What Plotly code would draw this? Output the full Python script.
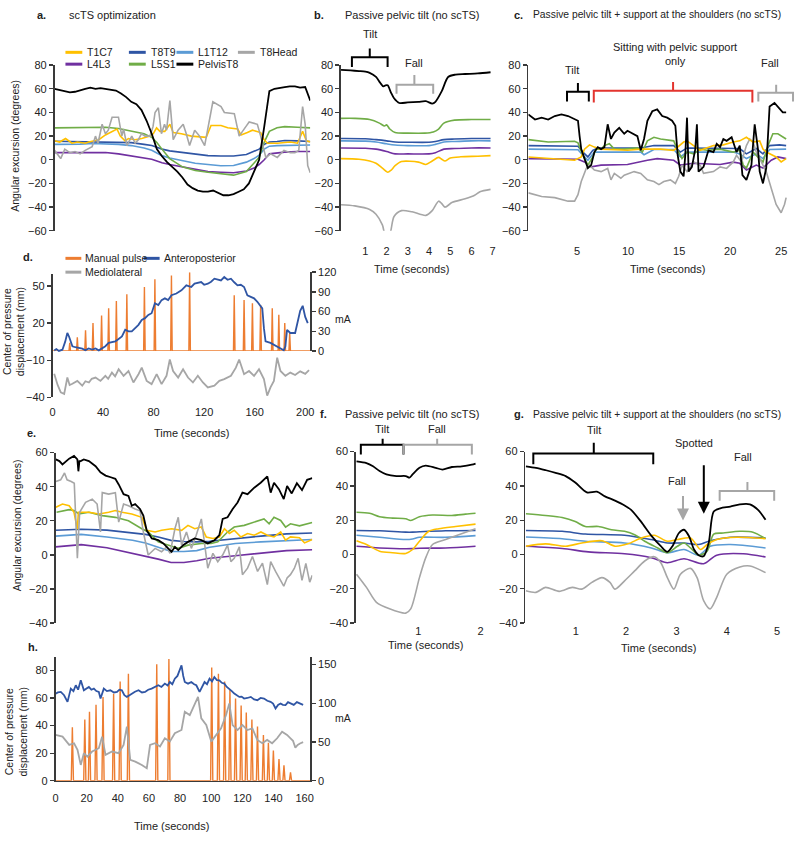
import plotly.graph_objects as go

W, H = 799, 841

# ---------------- DATA ----------------
# Panel a (scTS optimization), arbitrary time units 0-100
A_BLK_T = [0,2,4,6,8,10,12,14,16,18,20,22,24,26,28,30,32,34,36,38,40,42,44,46,48,50,52,54,56,58,60,62,64,66,68,70,72,74,76,78,80,82,84,86,88,90,92,94,96,98,100]
A_BLK = [60,59,58,57,57.5,59,60,61,60,60.5,60,59.5,58.5,56,53,49,47,42,33,22,9,3,-2,-6,-10,-15,-21,-24,-26,-27,-27,-26,-28,-30,-30,-29,-27,-25,-20,-10,0,28,58,60,61,61.5,62,62,61,61.5,50]
A_SM_T = [0,5,10,15,20,25,30,35,38,40,42,45,50,55,60,65,70,75,78,80,82,84,87,90,95,100]
A_L5S1 = [27,27,27.5,27.5,27.5,26.5,24.5,22,19,14.5,9,1,-6,-9,-10.5,-12,-13,-10,-3,2,15,24,27,28,27.5,27]
A_T8T9 = [15.7,15.5,15.5,15.3,15,15,14.5,13,12,10.5,9,7.5,6,4.6,3.5,3.2,3.2,4.5,7,9,13,15,15.5,16.3,16,15.5]
A_L1T12 = [13,13,13.2,13.7,13.5,13,12,10,8,6,3.5,1.5,-1,-3,-4,-5,-4.8,-2,1,4,9,11.5,12,12,12,12.5]
A_L4L3 = [6,6,6.3,6.5,6.2,5,3.5,2,0.5,-1,-2.5,-4,-6,-8,-10,-10.5,-11,-9.5,-7,-4,0,5,6,6.5,7,7]
A_YEL_T = [0,2,4.3,5.5,6.8,9,12,13.4,15,17.3,19.9,22.5,24.4,25.7,27.6,28.9,31.5,34.1,37.3,38.6,39.9,41.2,43.1,45.1,46.4,49.6,53.5,59.3,61.2,65.1,67.7,71.6,72.9,75.4,77.4,80.6,81.9,83.2,87.1,92.2,95,97,98.5,100]
A_T1C7 = [16,15,18,16,14,15,14,15,16,17,21,24,26,20,16,18,17,18,20,22,27,24,24,30,23,22,20,19,29,29,27,26,21,23,25,23,17,14,14,15,14,24,16,15]
A_GRY_T = [0,2.4,4,6,8,10,12,14.7,16,17,18.6,19.9,21,22.5,25,26.3,27,28.3,30.2,31.5,32.8,34,35.4,37.3,38.5,39.3,40.6,41.8,43,43.8,45.1,46.4,48.3,50.3,51.5,52.8,54.8,56.7,58.7,60.6,61.9,65.1,66.4,70.3,72.2,74.8,76.1,79.3,80.6,82.6,84.5,87.1,89.7,92.2,94,95.5,97,98,99,100]
A_T8HEAD = [8,1,9,6,7,5,8,11,20,14,30,22,25,36,36,20,26,12,20,14,17,22,20,20,28,40,44,22,30,25,50,17,25,30,22,12,25,20,12,35,49,45,40,39,20,28,32,30,20,2,5,2,8,6,6,8,45,30,-5,-11]

# Panel b (passive pelvic tilt, seconds)
B_BLK_T = [-0.15,0.3,0.7,1.0,1.2,1.5,1.7,1.85,1.95,2.05,2.2,2.35,2.6,3.0,3.5,3.85,4.15,4.3,4.6,4.9,5.25,5.7,6.3,6.9]
B_BLK = [76,75.5,75,74.5,73.5,70,65,62,63,63,57,52,48,48.5,49,49.5,47.5,49,58,70,72,72.5,73,74]
B_GRN_T = [-0.15,0.5,1.2,1.66,1.9,2.0,2.15,2.4,3.0,3.8,4.2,4.45,4.7,5.2,6.0,6.9]
B_GRN = [35,35,34,31,28.5,29.5,26,23,22.5,22.5,23.5,26,31,33.5,34,34]
B_SM_T = [-0.15,1.0,1.5,2.0,2.4,3.0,4.0,4.3,4.7,5.2,6.0,6.9]
B_T8T9 = [18,17.8,17,16,15,14.8,14.8,15.5,17,17.5,18,18]
B_L1T12 = [16,15.8,15,13.5,12.5,12,12,13,15,15.5,16,16]
B_L4L3 = [10,9.8,9,7,5,5,5,6,9,9.5,10,10]
B_YEL_T = [-0.15,0.7,1.2,1.5,1.8,2.05,2.2,2.4,2.7,3.5,3.85,4.15,4.45,4.6,4.75,5.0,5.5,6.3,6.9]
B_YEL = [1,0.5,-1,-3,-7,-10.5,-9,-5,-1.5,-2,-4,-1,2,0.5,-1,1.5,2.5,3,3.5]
B_GRY_T = [-0.15,0.5,1.2,1.5,1.8,1.97,2.15,2.35,2.7,3.2,3.85,4.15,4.45,4.6,4.75,5.1,5.7,6.15,6.4,6.9]
B_GRY = [-38,-39,-42,-46,-55,-66,-63,-48,-43,-44,-47,-43,-35,-37,-40,-36,-33,-30,-27,-25]

# Panel c (tilt + shoulder support, seconds)
C_BLK_T = [0.23,0.88,1.53,2.17,2.82,3.47,4.12,4.76,5.09,5.25,5.41,5.73,6.06,6.38,6.70,7.03,7.35,7.68,8.00,8.32,8.65,9.13,9.62,9.94,10.43,10.91,11.24,11.56,11.89,12.37,12.85,13.34,13.83,14.31,14.63,14.86,15.12,15.44,15.60,15.77,15.93,16.25,16.58,16.74,16.90,17.39,17.87,18.36,18.68,19.01,19.33,19.65,20.14,20.62,20.94,21.20,21.59,22.08,22.40,22.72,22.89,23.21,23.53,23.86,24.34,24.83,25.15,25.48]
C_BLK = [38.4,34,35.6,34,37,38.4,37,34,33,20,9,1,-7,-4.5,6.5,10.7,9,10.7,30,17.6,23,27,22,24.5,22,20,8,17.6,33,41,42.6,37,35.6,33,28.7,3.8,-10,-14,3.8,35.6,-10,-6,9,30,-10,-6,8,6.5,13.5,10.7,17.6,16,19,6.5,12,-13,-17,-4.5,30,9,-10,-20,-7,45,48,42.6,40,40]
C_GRN_T = [0.23,2.17,4.76,5.09,5.57,6.06,6.54,6.87,7.35,7.68,8.16,8.65,9.62,10.91,11.40,11.89,12.53,13.18,14.47,14.80,15.28,15.77,16.41,17.06,17.71,19.01,20.30,20.94,21.27,21.59,22.24,22.89,23.21,23.70,24.18,24.67,25.48]
C_GRN = [17,15,15.7,14.3,3.8,-4.5,2.4,9,9,12,13.5,9,9,10,6.5,16,19,17.6,16,9,1,6.5,5,9,8,9,6.5,8,-4.5,-7,6.5,1,-2,12,22,22,17.6]
C_BLU_T = [0.23,4.76,5.09,5.57,6.06,6.54,7.03,11.24,12.53,14.47,15.12,15.77,20.30,20.94,21.59,22.56,23.21,23.86,24.83,25.48]
C_T8T9 = [12,12,11.5,6.5,2.4,8,10,10,12,12,6.5,10,10,9.5,5,9.5,5,12,12.6,12]
C_LB_T = [0.23,4.76,5.09,5.73,6.06,6.70,7.03,11.24,11.56,12.53,14.47,15.12,15.77,20.30,20.94,21.59,22.56,23.21,23.86,25.48]
C_L1T12 = [9,9,8.5,2.4,-0.4,6.5,6.5,6.5,4.3,8.7,8.7,2.4,6.5,6.5,5,1,5,1,8.7,9]
C_PUR_T = [0.23,4.76,5.09,5.73,6.38,7.35,9.94,11.89,12.85,14.47,15.12,16.41,19.01,20.30,20.94,21.59,22.56,23.21,24.02,24.67,25.48]
C_L4L3 = [1,1,0.5,-1.8,-6,-4.5,-4,-0.4,1,-0.4,-4.5,-3,-4,-2,-3,-8.7,-4.5,-7,-0.4,2.4,1]
C_YEL_T = [0.23,2.17,4.76,5.41,5.73,6.22,6.70,7.35,8.65,9.94,11.24,13.18,14.47,15.44,15.77,16.41,17.06,18.36,19.33,20.30,20.94,21.59,22.24,22.89,23.21,23.53,23.86,24.50,24.99,25.48]
C_YEL = [2.4,1,-0.4,2.4,9,12.6,10.7,9,8.4,8,9,9,8,15,16,12,8,12,12.6,15,16,19,15,16,9,6.5,5,2.4,-1.8,1]
C_GRY_T = [0.23,1.53,2.82,4.12,4.76,5.09,5.41,5.90,6.22,6.70,7.35,8.00,8.32,8.65,9.29,9.62,10.59,11.24,11.89,12.53,13.02,13.50,14.15,14.63,14.96,15.28,15.77,16.41,17.06,17.39,18.36,19.01,19.65,20.30,20.62,21.11,21.59,21.92,22.24,22.56,22.89,23.53,24.02,24.50,24.99,25.32,25.48]
C_GRY = [-28,-31,-32,-35,-35,-29.5,-18.4,-7.3,-4.6,-8.7,-10,-7.3,-17,-11.5,-15.6,-13,-10,-11.5,-17,-18.4,-21,-18.4,-17,-20,-14,-4.6,-10,-1.8,-4.6,-11.5,-10,-6,-7.3,-1.8,3.8,-1.8,12,17.6,15,6.5,1,-10,-24,-37.8,-44.8,-37.8,-32]

# Panel d (center of pressure, seconds; pulses in mA)
D_AP_T = [1.3,3,5,7.8,10,11.7,13.1,15.7,18,20.9,23.5,26,28.5,31.4,34,36.6,39.2,41.8,44.4,47,49.7,52,54.9,57.5,60.1,62.7,65,68,70.6,73.2,75.8,78.4,81,83.7,86.3,88.9,91.5,94.1,98,102,105.9,109.8,112.4,117.6,120,122.9,125.5,128.1,133.3,135.9,138.5,141.2,143.8,146.4,149,151.6,154.2,157,159.5,162.1,166,167.3,168.6,172.5,175.2,179.1,181.7,183,184.3,185.6,188.2,192,196,198,200,202]
D_AP = [-2.2,-1,-2.5,-1.5,5,12,9,1.3,0.5,0,-0.6,-2,-0.5,-1.4,-0.5,-2,-0.6,1.3,4,4.5,5.3,7,9.3,14.6,13.3,13.3,16,18.6,22.6,24,26.6,28,36,34.6,38.6,40,38.6,42.5,43.9,46.5,50.5,49.2,51.9,53.2,51,51.9,53.5,55.9,54.5,57.2,55,55.9,53,50.5,51,49.2,42.5,41.5,40,37.2,31.9,15.9,5.3,4,2.6,0.5,-1.4,-2,1.3,14.6,12,12,30,34,25,20]
D_ML_T = [1.3,4,6.5,9.2,11.7,13.5,15.7,19.6,23.5,26,28.8,31,34,37.9,41.8,44,47,49.5,52.3,56.2,60.1,64,68,70.6,74.5,78.4,82.4,86.3,90.2,92.8,95.4,99.4,103.3,107.2,111.1,115,119,122.9,128.1,132,135.9,141.2,145.1,147.7,151.6,155.5,159.5,163.4,167.3,169.9,172.5,175.2,177.8,180.4,184.3,188.2,192,196,200,203]
D_ML = [-21,-30,-36,-37.3,-24,-30,-29,-26.7,-30.6,-27,-28,-25,-24,-26.7,-22.6,-25,-20,-23,-17.3,-22.6,-18.7,-28,-21.3,-16,-26.7,-29.3,-21.3,-29.3,-22.6,-9.4,-18.7,-24,-17.3,-24,-28,-22.6,-28,-32,-30.6,-26.7,-25.3,-22.6,-16,-9.4,-21.3,-18.7,-22.6,-17.3,-25.3,-38.6,-32,-26.7,-8,-18.7,-22.6,-20,-22,-19,-21,-18]
D_PULSE_T = [13.6,19.6,26.1,32,38.8,44.4,50.5,58.8,72.7,81,94.1,108.5,143.8,151.6,158.2,164.7,173.9,179.1,183.8,187.7]
D_PULSE_MA = [12.5,21,31.5,42.5,54,65,76,86.5,97.5,109,115,120,85,77.5,72.5,70,65,55,42.5,27.5]

# Panel e (scTS, arbitrary time units 0-100)
E_BLK_T = [0.13,1.5,2.7,4,5.3,7.2,8.5,8.9,9.3,9.8,11,13,15.6,17.5,19.5,21.5,23.3,24.6,26.5,28.4,29.7,31,32.9,34.2,35.5,37.5,40,42,43.9,45.2,46.5,47.8,49.7,51.6,54.2,56.8,59.3,61.9,63.8,65.1,67,69,70.9,72.8,74.8,77.4,79.9,82.5,83.8,85.1,87,88.9,90.2,92,94,96,98,100]
E_BLK = [56,55,53,55,56.4,58,56,49,55,55,56,55,52,48.4,46.5,45.5,44.6,41.3,35.6,34.6,28.8,29.8,26.9,23,14.4,9.6,8.6,6.7,3.8,1.8,4.7,2.8,5.7,7.6,9.6,8.6,6.7,8.6,11.5,21.1,22,26.9,30.7,36.5,35.6,39.4,42.3,46,36.5,42.3,38.5,32.7,40.4,36,42,38,44,45]
E_GRY_T = [0.13,2,3.5,4.5,6.1,7.3,8.5,9.4,11.7,14.3,16.2,17.5,18.2,20.7,23.3,24.6,26.5,28.4,31,32.9,34.2,36.1,38.8,41.3,43.3,44.6,46.5,47.8,49.1,51,52.9,54.8,56.8,58,59.3,61.3,63.2,65.1,67,68.3,69.6,71.6,72.8,74.8,76.7,78.7,80.6,82.5,83.8,85.7,87.7,88.9,90.2,91.5,93,94.5,96,97.5,99,100]
E_GRY = [43,44,48,44,43,42,-2,25,30.8,32.7,29.8,13.4,36.5,35.6,36.5,19.2,29.8,28.8,26.9,25.9,13.4,-0.1,3.8,1.8,4.7,0.9,15.3,22,5.7,13.4,3.8,11.5,21.1,5.7,-7.8,0.9,-4,-0.1,5.7,-4,-2,4.7,-11.6,-7.8,-1,-9.7,-4.9,-17.4,-4,-9.7,-15.5,-18.4,-13.6,-11.6,-8,-2,-15,-5,-16,-12]
E_YEL_T = [0.13,2.7,5.3,7.2,8.5,8.9,13,16.9,20.7,23.3,25.9,29.7,33.6,35.5,38.8,41.3,45.2,49.1,51.6,54.2,56.8,58.7,61.3,63.8,65.8,67.7,69.6,72.2,74.8,77.4,80,82.5,85.1,87.7,89.6,91.5,95,97,100]
E_YEL = [27.9,29.8,28.8,25,15,25,25,24,25,26,25,24,22,14.4,13.4,14.4,15.3,14.4,17.3,15.3,16.3,10.5,9.6,10.5,15.3,12.5,14.4,10.5,12.5,11.5,13.4,11.5,10.5,13.4,8.6,10.5,10,7,9]
E_GRN_T = [0.4,5.3,7.2,9.1,13,18.2,23.3,28.4,33.6,36.1,40,44,47.8,51.6,56.8,60.6,63.2,67,69.6,73.5,77.4,81.2,83.2,85.1,87.7,89.6,91.5,95,100]
E_GRN = [25,26.5,26,24,25,23,22,20,15.3,13.4,7.6,5.7,3.8,5.7,6.7,6.7,7.6,13.4,16.3,17.3,19.2,21.1,18.2,22,20.2,16.3,18.2,17,19]
E_SM_T = [0,10,20,30,35,40,45,50,55,60,70,80,90,100]
E_T8T9 = [14.4,15,14.5,13,12,10.5,8.5,7.8,7.6,8,9.6,11,12.3,12.8]
E_L1T12 = [11,12,10.5,8.6,7,4.5,2,2,2.5,4.5,6.7,7.6,8.5,9]
E_L4L3 = [4.7,6,4.2,1,-0.5,-2.5,-4.5,-4.5,-3.5,-2,-0.5,1,2.5,3]

# Panel f (passive pelvic tilt, seconds)
F_BLK_T = [0.01,0.17,0.275,0.38,0.49,0.65,0.8,0.86,0.91,1.02,1.12,1.28,1.39,1.54,1.7,1.86,1.92]
F_BLK = [54.3,53.3,51.4,48.6,46.7,45.7,45.7,44.8,46.7,50.5,51.8,50.5,49.5,51,51.4,52.4,53]
F_GRN_T = [0.01,0.22,0.38,0.59,0.8,0.88,1.02,1.23,1.54,1.76,1.92]
F_GRN = [24.6,24,22,21.2,20.8,19.8,22,23,22.7,23.5,24]
F_SM_T = [0.01,0.38,0.8,0.91,1.02,1.44,1.92]
F_T8T9 = [14,13.8,13,13,13.2,13.8,14]
F_L1T12 = [11.2,10,8.7,9,10,10,11]
F_L4L3 = [4.8,3.8,3.3,3.4,3.6,3.8,4.8]
F_YEL_T = [0.01,0.17,0.38,0.59,0.8,0.91,1.02,1.17,1.33,1.6,1.92]
F_YEL = [8,5.8,1.9,1,0.6,2.9,7.7,13.5,15,16.3,17.7]
F_GRY_T = [0.01,0.17,0.33,0.54,0.8,0.88,1.02,1.12,1.23,1.44,1.65,1.92]
F_GRY = [-11.5,-19.2,-27.9,-31.7,-34.2,-31.7,-13.5,-2,5.8,8.7,11.5,15]

# Panel g (tilt + shoulder support, seconds)
G_BLK_T = [0.01,0.21,0.41,0.6,0.8,0.99,1.22,1.42,1.58,1.78,1.97,2.1,2.3,2.5,2.69,2.82,2.92,3.05,3.15,3.25,3.35,3.44,3.54,3.64,3.74,3.87,4.07,4.26,4.46,4.62,4.77]
G_BLK = [51.4,50.5,49.1,47.6,45.7,41.9,36.2,36.6,33.9,31.4,28.6,26,19,11,4.8,1.5,4.8,12.5,14.4,10.6,2.9,-0.4,-1,6.7,25,26.9,27.9,29.2,29.2,26,20.2]
G_GRN_T = [0.01,0.4,0.73,0.99,1.19,1.45,1.71,1.97,2.17,2.37,2.63,2.82,3.02,3.15,3.28,3.44,3.61,3.74,3.93,4.26,4.52,4.77]
G_GRN = [23.7,22.7,21.5,19.2,16.3,16.3,14.4,13.5,11.5,7.7,3.8,1,4.8,6.7,3.8,-0.4,1.9,11.9,12.5,13.5,13,9.2]
G_BLU_T = [0.01,0.73,1.19,1.97,2.5,2.82,3.15,3.44,3.67,4.07,4.77]
G_T8T9 = [14,13.5,11.9,11.2,8.7,6.7,6.7,5.8,8,10,9.6]
G_L1T12 = [10.2,9.2,7.7,6.7,3.8,1,2.9,-0.4,4.8,5.8,3.8]
G_PUR_T = [0.01,0.73,1.25,1.97,2.5,2.82,3.15,3.54,3.8,4.33,4.77]
G_L4L3 = [4.8,3.5,1.5,0.4,-1.9,-4.8,-2.5,-5.4,-0.4,0.4,-1.5]
G_YEL_T = [0.01,0.4,0.8,1.12,1.52,1.78,2.04,2.3,2.56,2.82,3.02,3.28,3.48,3.61,3.8,4.2,4.77]
G_YEL = [4.8,6.2,4.8,6.7,8,4.8,6.2,9.6,11.2,7.7,8.7,9.6,2.9,5.8,8.7,10,9.2]
G_GRY_T = [0.01,0.21,0.4,0.67,0.93,1.12,1.32,1.52,1.68,1.78,1.97,2.17,2.37,2.56,2.69,2.82,2.95,3.08,3.28,3.41,3.54,3.67,3.8,4.0,4.26,4.46,4.77]
G_GRY = [-21.2,-22.1,-19.2,-21.5,-19.2,-20.2,-16.3,-13.5,-16.3,-20.2,-15.4,-9.6,-3.8,-1.3,-4.8,-13.5,-20.2,-11.5,-8.1,-13.5,-26.9,-31.7,-25,-11.5,-7.3,-6.7,-10.6]

# Panel h (center of pressure with scTS, seconds; pulses in mA)
H_AP_T = [0,1.5,3.4,5.5,7.7,9.8,11.5,13,14.5,16.2,18.2,19.8,21.4,23,24.6,26.2,27.8,28.9,31,33,35.2,37.5,39.5,41,42.6,44.2,45.8,47.5,49,51,53.3,55.5,57.5,59.5,61.7,64,66,68,70.2,72,73.4,75,76.6,78.3,79.8,80.9,82,83,85.1,87.2,89,90.4,92.5,94,95.7,97.3,98.9,100.5,102,103.6,105.2,106.8,108.4,110,111.6,113.2,114.8,116.4,118,119.5,121.1,123.2,125.4,127.5,129.6,131.7,133.9,136,138.1,139.7,141.3,142.9,144.5,146,147.7,149.3,150.9,153,155,157,159]
H_AP = [63,64,64.4,62,57.2,66.8,65,69.2,66,72.8,65.6,67,68,66,66.8,65,64.4,59.6,66.8,65,65.6,64,64.4,66,65.6,62,60.8,62,63.2,64.5,65.6,64,64.4,66,66.8,68,69.2,68,70.4,69,71.6,70,74,76,81.3,83.7,76,71.6,70.4,71.6,70,69.2,64.4,68,71.6,70,74,72,75.2,73,72.8,71,70.4,68,66.8,65,63.2,62,60.8,61,59.6,60,60.8,59,58.4,60,59.6,58,57.2,56,52.4,55,56,55,54.8,57,56,55,57,56,55]
H_ML_T = [0,4.5,8.8,11.9,14.1,16.2,18.2,20.4,23.5,27.8,29.9,32.1,36.3,40.5,43.7,45.8,48,51.2,55.4,58.6,60.7,63.9,67.1,70.2,73.4,76.6,80.9,83,86.2,89.3,91.5,93.6,96.8,100,103.1,106.3,109.5,111.6,113.7,116.9,120,123.2,126.4,129.6,132.8,135.9,139.1,142.3,145.5,148.7,150.9,152.5,154,155.5,157,159]
H_ML = [33.2,32,26,27.2,22.4,11.5,20,17.5,21.2,23.6,32,18.8,21.2,20,26,39.2,15.1,13.9,11.5,9.1,26,27.2,24.8,30.8,28.4,34.4,36.8,50,47.6,54.8,60.8,45.2,40.4,28.4,33.2,38,47.6,56,40.4,36.8,40.4,36.8,38,29.6,27.2,29.6,27.2,30.8,35.6,33.2,30.8,29,24,26,27,28]
H_PULSE_T = [10.8,18.8,21.8,26,30.5,37.3,41.5,46.8,65,72.8,100.3,104.6,108.6,112,115.6,119.2,122.5,126.1,129.7,133.5,136.7,139.9,143.5,146.7,150.9]
H_PULSE_MA = [69,79,89,98,108,112,128,138,150,157,146,138,128,118,106,97,88,79,70,59,49,39,28,20,11]

# ---------------- STYLE ----------------
COL = {'T1C7': '#FFC000', 'T8T9': '#2F55A4', 'L1T12': '#5B9BD5', 'T8Head': '#A6A6A6',
       'L4L3': '#7030A0', 'L5S1': '#70AD47', 'PelvisT8': '#000000',
       'pulse': '#ED7D31', 'AP': '#2F55A4', 'ML': '#A6A6A6', 'red': '#E3342F'}
AX = '#3a3a3a'
FONT = 'Liberation Sans, Arial, sans-serif'


def xd(a, b):
    return [a / W, b / W]


def yd(top, bot):
    return [1 - bot / H, 1 - top / H]


def PX(x):
    return x / W


def PY(y):
    return 1 - y / H


fig = go.Figure()


def line(x, y, xa, ya, color, width=1.6, spline=False):
    fig.add_trace(go.Scatter(x=x, y=y, xaxis=xa, yaxis=ya, mode='lines',
                             line=dict(color=color, width=width,
                                       shape='spline' if spline else 'linear', smoothing=0.8),
                             hoverinfo='skip', showlegend=False))


def pulses(times, amps, t0, t1, hw):
    xs, ys = [t0], [0]
    for t, a in zip(times, amps):
        xs += [t - hw, t, t + hw]
        ys += [0, a, 0]
    xs.append(t1)
    ys.append(0)
    return xs, ys


# a
line(A_SM_T, A_L4L3, 'x', 'y', COL['L4L3'])
line(A_SM_T, A_L1T12, 'x', 'y', COL['L1T12'])
line(A_SM_T, A_T8T9, 'x', 'y', COL['T8T9'])
line(A_SM_T, A_L5S1, 'x', 'y', COL['L5S1'])
line(A_YEL_T, A_T1C7, 'x', 'y', COL['T1C7'])
line(A_GRY_T, A_T8HEAD, 'x', 'y', COL['T8Head'])
line(A_BLK_T, A_BLK, 'x', 'y', COL['PelvisT8'], 1.8)
# b
line(B_SM_T, B_L4L3, 'x2', 'y2', COL['L4L3'], spline=True)
line(B_SM_T, B_L1T12, 'x2', 'y2', COL['L1T12'], spline=True)
line(B_SM_T, B_T8T9, 'x2', 'y2', COL['T8T9'], spline=True)
line(B_GRN_T, B_GRN, 'x2', 'y2', COL['L5S1'], spline=True)
line(B_YEL_T, B_YEL, 'x2', 'y2', COL['T1C7'], spline=True)
line(B_GRY_T, B_GRY, 'x2', 'y2', COL['T8Head'], spline=True)
line(B_BLK_T, B_BLK, 'x2', 'y2', COL['PelvisT8'], 1.8, spline=True)
# c
line(C_PUR_T, C_L4L3, 'x3', 'y3', COL['L4L3'])
line(C_LB_T, C_L1T12, 'x3', 'y3', COL['L1T12'])
line(C_BLU_T, C_T8T9, 'x3', 'y3', COL['T8T9'])
line(C_GRN_T, C_GRN, 'x3', 'y3', COL['L5S1'])
line(C_GRY_T, C_GRY, 'x3', 'y3', COL['T8Head'])
line(C_YEL_T, C_YEL, 'x3', 'y3', COL['T1C7'])
line(C_BLK_T, C_BLK, 'x3', 'y3', COL['PelvisT8'], 1.8)
# d : y4 = mA (right, short domain), y5 = mm (left)
px_, py_ = pulses(D_PULSE_T, D_PULSE_MA, 0, 204, 0.6)
line(px_, py_, 'x4', 'y4', COL['pulse'], 1.4)
line(D_ML_T, D_ML, 'x4', 'y5', COL['ML'], 1.8)
line(D_AP_T, D_AP, 'x4', 'y5', COL['AP'], 1.8)
# e
line(E_SM_T, E_L4L3, 'x5', 'y6', COL['L4L3'])
line(E_SM_T, E_L1T12, 'x5', 'y6', COL['L1T12'])
line(E_SM_T, E_T8T9, 'x5', 'y6', COL['T8T9'])
line(E_GRN_T, E_GRN, 'x5', 'y6', COL['L5S1'])
line(E_YEL_T, E_YEL, 'x5', 'y6', COL['T1C7'])
line(E_GRY_T, E_GRY, 'x5', 'y6', COL['T8Head'])
line(E_BLK_T, E_BLK, 'x5', 'y6', COL['PelvisT8'], 1.8)
# f
line(F_SM_T, F_L4L3, 'x6', 'y7', COL['L4L3'], spline=True)
line(F_SM_T, F_L1T12, 'x6', 'y7', COL['L1T12'], spline=True)
line(F_SM_T, F_T8T9, 'x6', 'y7', COL['T8T9'], spline=True)
line(F_GRN_T, F_GRN, 'x6', 'y7', COL['L5S1'], spline=True)
line(F_YEL_T, F_YEL, 'x6', 'y7', COL['T1C7'], spline=True)
line(F_GRY_T, F_GRY, 'x6', 'y7', COL['T8Head'], spline=True)
line(F_BLK_T, F_BLK, 'x6', 'y7', COL['PelvisT8'], 1.8, spline=True)
# g
line(G_PUR_T, G_L4L3, 'x7', 'y8', COL['L4L3'], spline=True)
line(G_BLU_T, G_L1T12, 'x7', 'y8', COL['L1T12'], spline=True)
line(G_BLU_T, G_T8T9, 'x7', 'y8', COL['T8T9'], spline=True)
line(G_GRN_T, G_GRN, 'x7', 'y8', COL['L5S1'], spline=True)
line(G_YEL_T, G_YEL, 'x7', 'y8', COL['T1C7'], spline=True)
line(G_GRY_T, G_GRY, 'x7', 'y8', COL['T8Head'], spline=True)
line(G_BLK_T, G_BLK, 'x7', 'y8', COL['PelvisT8'], 1.8, spline=True)
# h : y9 = mA (right, base), y10 = mm (left, overlay)
hx, hy = pulses(H_PULSE_T, H_PULSE_MA, 0, 163.6, 0.7)
line(hx, hy, 'x8', 'y9', COL['pulse'], 1.4)
line(H_ML_T, H_ML, 'x8', 'y10', COL['ML'], 1.8)
line(H_AP_T, H_AP, 'x8', 'y10', COL['AP'], 1.8)


def yax(dom, rng, ticks, anchor, side='left', **kw):
    d = dict(domain=dom, range=rng, tickvals=ticks, anchor=anchor, side=side,
             showline=True, linecolor=AX, linewidth=1.6, ticks='outside', ticklen=4,
             tickwidth=1.3, tickcolor=AX, showgrid=False, zeroline=False,
             tickfont=dict(size=11, color='#222', family=FONT), fixedrange=True)
    d.update(kw)
    return d


def xax(dom, rng, anchor, ticks=None, standoff=0, **kw):
    d = dict(domain=dom, range=rng, anchor=anchor, showline=False, showgrid=False,
             zeroline=False, ticks='', tickfont=dict(size=11, color='#222', family=FONT),
             fixedrange=True)
    if ticks is None:
        d['showticklabels'] = False
    else:
        d['tickvals'] = ticks
        d['ticklabelstandoff'] = standoff
    d.update(kw)
    return d


Y_ABC = [-60, -40, -20, 0, 20, 40, 60, 80]
Y_EFG = [-40, -20, 0, 20, 40, 60]

layout = dict(
    width=W, height=H, autosize=False, margin=dict(l=0, r=0, t=0, b=0),
    paper_bgcolor='white', plot_bgcolor='rgba(0,0,0,0)', showlegend=False,
    font=dict(family=FONT, size=11, color='#222'),
    xaxis=xax(xd(52, 310), [0, 100], 'y'),
    yaxis=yax(yd(60, 228), [-60, 80], Y_ABC, 'x'),
    xaxis2=xax(xd(341, 494), [-0.15, 7.0], 'y2', [1, 2, 3, 4, 5, 6, 7], 12),
    yaxis2=yax(yd(60, 228), [-60, 80], Y_ABC, 'x2'),
    xaxis3=xax(xd(530, 795), [0.23, 25.96], 'y3', [5, 10, 15, 20, 25], 12),
    yaxis3=yax(yd(60, 228), [-60, 80], Y_ABC, 'x3'),
    xaxis4=xax(xd(50, 310), [0, 204], 'y5', [0, 40, 80, 120, 160, 200], 7),
    yaxis4=yax(yd(270, 350), [0, 120], [0, 30, 60, 90, 120], 'x4', side='right'),
    yaxis5=yax(yd(272, 397), [-40, 59.6], [-40, -10, 20, 50], 'x4'),
    xaxis5=xax(xd(53, 312), [0, 100], 'y6'),
    yaxis6=yax(yd(453, 626), [-40, 60], Y_EFG, 'x5'),
    xaxis6=xax(xd(356, 483), [0, 2.02], 'y7', [1, 2], 0),
    yaxis7=yax(yd(452, 626), [-40, 60], Y_EFG, 'x6'),
    xaxis7=xax(xd(527, 782), [0, 5.02], 'y8', [1, 2, 3, 4, 5], 0),
    yaxis8=yax(yd(452, 626), [-40, 60], Y_EFG, 'x7'),
    xaxis8=xax(xd(53, 310), [0, 163.6], 'y9', [0, 20, 40, 60, 80, 100, 120, 140, 160], 7,
               showline=True, linecolor=AX, linewidth=1.3),
    yaxis9=yax(yd(660, 786), [0, 160], [0, 50, 100, 150], 'x8', side='right'),
    yaxis10=yax(yd(660, 786), [0, 90], [0, 20, 40, 60, 80], 'x8', side='left', overlaying='y9'),
)
fig.update_layout(**layout)

ann = []
shapes = []


def T(x, y, text, size=11, xanchor='center', color='#222', angle=0, bold=False):
    ann.append(dict(x=PX(x), y=PY(y), xref='paper', yref='paper', text=('<b>%s</b>' % text) if bold else text,
                    showarrow=False, xanchor=xanchor, yanchor='middle', textangle=angle,
                    font=dict(size=size, color=color, family=FONT), align='center'))


def swatch(x0, x1, y, color):
    shapes.append(dict(type='line', xref='paper', yref='paper', x0=PX(x0), x1=PX(x1),
                       y0=PY(y), y1=PY(y), line=dict(color=color, width=3)))


def brace(x0, x1, xm, yh, ye, yp, color):
    p = 'M %f,%f L %f,%f L %f,%f L %f,%f M %f,%f L %f,%f L %f,%f' % (
        PX(x0), PY(ye), PX(x0), PY(yh), PX(xm), PY(yh), PX(xm), PY(yp),
        PX(xm), PY(yh), PX(x1), PY(yh), PX(x1), PY(ye))
    shapes.append(dict(type='path', xref='paper', yref='paper', path=p,
                       line=dict(color=color, width=2)))


# panel titles
T(32, 9, 'a.', 11, 'left', bold=True)
T(65, 9, 'scTS optimization', 11, 'left')
T(312, 9, 'b.', 11, 'left', bold=True)
T(343, 9, 'Passive pelvic tilt (no scTS)', 11, 'left')
T(513, 9, 'c.', 11, 'left', bold=True)
T(533, 9, 'Passive pelvic tilt + support at the shoulders (no scTS)', 10.3, 'left')
T(18, 255, 'd.', 11, 'left', bold=True)
T(22, 433, 'e.', 11, 'left', bold=True)
T(318, 414, 'f.', 11, 'left', bold=True)
T(343, 414, 'Passive pelvic tilt (no scTS)', 11, 'left')
T(513, 414, 'g.', 11, 'left', bold=True)
T(533, 414, 'Passive pelvic tilt + support at the shoulders (no scTS)', 10.3, 'left')
T(23, 650, 'h.', 11, 'left', bold=True)

# legend a
LEG_A = [('T1C7', 63, 47), ('T8T9', 127, 47), ('L1T12', 175, 47), ('T8Head', 237, 47),
         ('L4L3', 63, 59), ('L5S1', 127, 59), ('PelvisT8', 175, 59)]
for name, x0, y in LEG_A:
    swatch(x0, x0 + 17, y, COL[name])
    T(x0 + 20, y, name, 10.5, 'left')
# legend d
LEG_D = [('Manual pulse', 'pulse', 63, 256), ('Anteroposterior', 'AP', 142, 256), ('Mediolateral', 'ML', 63, 270)]
for name, key, x0, y in LEG_D:
    swatch(x0, x0 + 16, y, COL[key])
    T(x0 + 18, y, name, 10.5, 'left')

# axis titles
T(12, 142, 'Angular excursion (degrees)', 10.5, angle=-90)
T(11, 330, 'Center of pressure<br>displacement (mm)', 10.5, angle=-90)
T(15, 527, 'Angular excursion (degrees)', 10.5, angle=-90)
T(14, 736, 'Center of pressure<br>displacement (mm)', 10.5, angle=-90)
T(343, 318, 'mA', 10.5)
T(343, 722, 'mA', 10.5)
T(412, 267, 'Time (seconds)', 11)
T(670, 267, 'Time (seconds)', 11)
T(190, 433, 'Time (seconds)', 11)
T(426, 648, 'Time (seconds)', 11)
T(661, 651, 'Time (seconds)', 11)
T(170, 832, 'Time (seconds)', 11)

# event annotations
T(370, 28, 'Tilt')
brace(352, 388, 370, 52, 62, 43, '#000000')
T(415, 58, 'Fall')
brace(397, 434, 415, 80, 89, 70, '#A6A6A6')
T(574, 65, 'Tilt')
brace(569, 591, 580, 87, 97, 78, '#000000')
T(678, 49, 'Sitting with pelvic support<br>only')
brace(596, 756, 676, 86, 98, 77, COL['red'])
T(774, 58, 'Fall')
brace(762, 797, 780, 88, 97, 80, '#A6A6A6')
T(382, 429, 'Tilt')
brace(361, 404, 383, 445, 455, 439, '#000000')
T(438, 429, 'Fall')
brace(404, 473, 438, 445, 455, 439, '#A6A6A6')
T(596, 430, 'Tilt')
brace(535, 656, 596, 454, 465, 443, '#000000')
T(697, 443, 'Spotted')
T(680, 482, 'Fall')
T(747, 458, 'Fall')
brace(723, 778, 751, 492, 502, 483, '#A6A6A6')
ann.append(dict(x=PX(707), y=PY(515), xref='paper', yref='paper', ax=0, ay=-50, text='',
                showarrow=True, arrowhead=2, arrowsize=1.2, arrowwidth=2, arrowcolor='#000000'))
ann.append(dict(x=PX(686), y=PY(522), xref='paper', yref='paper', ax=0, ay=-26, text='',
                showarrow=True, arrowhead=2, arrowsize=1.2, arrowwidth=2, arrowcolor='#A6A6A6'))

fig.update_layout(annotations=ann, shapes=shapes)
fig.write_html('out.html', config={'displayModeBar': False, 'staticPlot': True},
               post_script="document.body.style.margin='0px';document.body.style.overflow='hidden';")
